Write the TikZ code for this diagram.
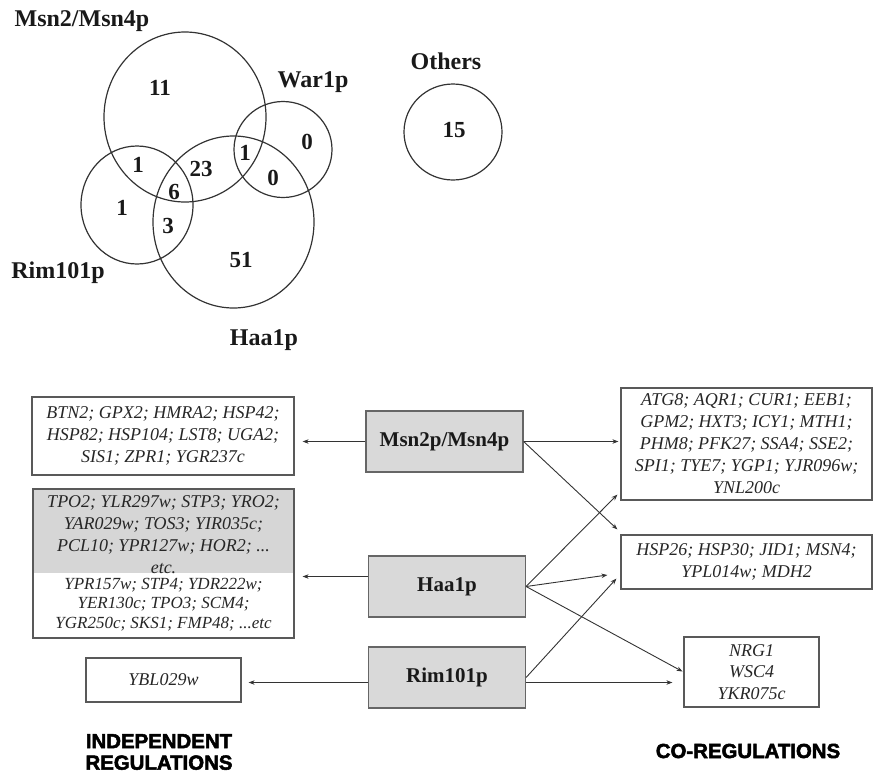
\documentclass[tikz,border=0pt]{standalone}
\usepackage{fontspec}
\setmainfont{Liberation Serif}
\newfontfamily\heavysans{Liberation Sans}[UprightFont={* Bold}, UprightFeatures={FakeBold=2.5}]
\usetikzlibrary{calc,arrows.meta}
\tikzset{
  venn/.style={draw=black!80, line width=1.2pt},
  vlabel/.style={font=\fontsize{24}{28}\selectfont\bfseries, anchor=base, inner sep=0pt, text=black!90},
  num/.style={font=\fontsize{23}{26}\selectfont\bfseries, inner sep=0pt, text=black!90},
  tfbox/.style={draw=black!60, fill=black!15, line width=1.2pt, minimum width=157pt, minimum height=61pt, inner sep=0pt, font=\fontsize{21}{24}\selectfont\bfseries, text=black!90},
  genebox/.style={draw=black!65, line width=1.2pt, inner sep=0pt, font=\fontsize{18}{22}\selectfont\itshape, align=center, text=black!85},
  genetext/.style={inner sep=0pt, font=\fontsize{18}{22}\selectfont\itshape, align=center, text=black!85},
  arr/.style={-{Stealth[length=6pt,width=4.5pt]}, draw=black!80, line width=0.9pt},
  heading/.style={font=\heavysans\fontsize{20.4}{21.5}\selectfont, align=center, inner sep=0pt}
}
\begin{document}
\begin{tikzpicture}[x=1pt,y=-1pt]
\useasboundingbox (0,0) rectangle (875,774);

% ---------- Venn diagram ----------
\draw[venn] (185,117) ellipse [x radius=81pt, y radius=85pt];
\draw[venn] (137,205) ellipse [x radius=56pt, y radius=59pt];
\draw[venn] (233.5,222) ellipse [x radius=80.5pt, y radius=86pt];
\draw[venn] (283,149.5) ellipse [x radius=49pt, y radius=48pt];
\draw[venn] (453,132) ellipse [x radius=49pt, y radius=48pt];

\node[vlabel] (lmsn) at (82,26) {Msn2/Msn4p};
\node[vlabel] (lwar) at (313,87) {War1p};
\node[vlabel] (loth) at (446,69) {Others};
\node[vlabel] (lrim) at (58,278) {Rim101p};
\node[vlabel] (lhaa) at (264,345) {Haa1p};

\node[num] (n1) at (160,88) {11};
\node[num] (n2) at (245,153) {1};
\node[num] (n3) at (307,142) {0};
\node[num] (n4) at (138,165) {1};
\node[num] (n5) at (201,169) {23};
\node[num] (n6) at (273,178) {0};
\node[num] (n7) at (174,192) {6};
\node[num] (n8) at (122,208) {1};
\node[num] (n9) at (168,226) {3};
\node[num] (n10) at (241,260) {51};
\node[num] (n11) at (454,130) {15};

% ---------- regulators ----------
\node[tfbox] (msn) at (444.5,441.5) {Msn2p/Msn4p};
\node[tfbox] (haa) at (447,586.5) {Haa1p};
\node[tfbox] (rim) at (447,677.5) {Rim101p};

% ---------- independent regulations ----------
\node[genebox, minimum width=262pt, minimum height=78pt] (b1) at (163,436)
  {BTN2; GPX2; HMRA2; HSP42;\\HSP82; HSP104; LST8; UGA2;\\SIS1; ZPR1; YGR237c};

\fill[black!16] (33,489) rectangle (294,573);
\node[genebox, minimum width=261pt, minimum height=149pt] (b2) at (163.5,563.5) {};
\node[genetext] (b2top) at (163.5,535)
  {TPO2; YLR297w; STP3; YRO2;\\YAR029w; TOS3; YIR035c;\\PCL10; YPR127w; HOR2; ...\\etc.};
\node[genetext, font=\fontsize{17}{19.5}\selectfont\itshape] (b2bot) at (163.5,604.5)
  {YPR157w; STP4; YDR222w;\\YER130c; TPO3; SCM4;\\YGR250c; SKS1; FMP48; ...etc};

\node[genebox, minimum width=155pt, minimum height=44pt] (b3) at (163.5,680) {YBL029w};

% ---------- co-regulations ----------
\node[genebox, minimum width=251pt, minimum height=112pt] (atg) at (746.5,444)
  {ATG8; AQR1; CUR1; EEB1;\\GPM2; HXT3; ICY1; MTH1;\\PHM8; PFK27; SSA4; SSE2;\\SPI1; TYE7; YGP1; YJR096w;\\YNL200c};
\node[genebox, minimum width=251pt, minimum height=54pt] (hsp) at (746.5,562)
  {HSP26; HSP30; JID1; MSN4;\\YPL014w; MDH2};
\node[genebox, minimum width=135pt, minimum height=70pt, font=\fontsize{18}{21.5}\selectfont\itshape] (nrg) at (751.5,672)
  {NRG1\\WSC4\\YKR075c};

% ---------- headings ----------
\node[heading] (hind) at (159,752) {INDEPENDENT\\REGULATIONS};
\node[heading] (hco) at (748,751) {CO-REGULATIONS};

% ---------- arrows ----------
\draw[arr, shorten >=8pt] (msn.west) -- (msn.west -| b1.east);
\draw[arr, shorten >=2pt] (msn.east) -- (msn.east -| atg.west);
\draw[arr] (msn.east) -- ($(hsp.north west)+(-3,-5)$);

\draw[arr, shorten >=8pt] ([yshift=10pt]haa.west) -- ([yshift=10pt]haa.west -| b2.east);
\draw[arr] (haa.east) -- ($(atg.south west)+(-3,-6)$);
\draw[arr] (haa.east) -- ($(hsp.west)+(-13,13)$);
\draw[arr, shorten >=1pt] (haa.east) -- (nrg.west);

\draw[arr, shorten >=7pt] ([yshift=-5pt]rim.west) -- ([yshift=-5pt]rim.west -| b3.east);
\draw[arr, shorten >=11pt] ([yshift=-5pt]rim.east) -- ([yshift=-5pt]rim.east -| nrg.west);
\draw[arr] (rim.east) -- ($(hsp.south west)+(-4,-11)$);
\end{tikzpicture}
\end{document}
